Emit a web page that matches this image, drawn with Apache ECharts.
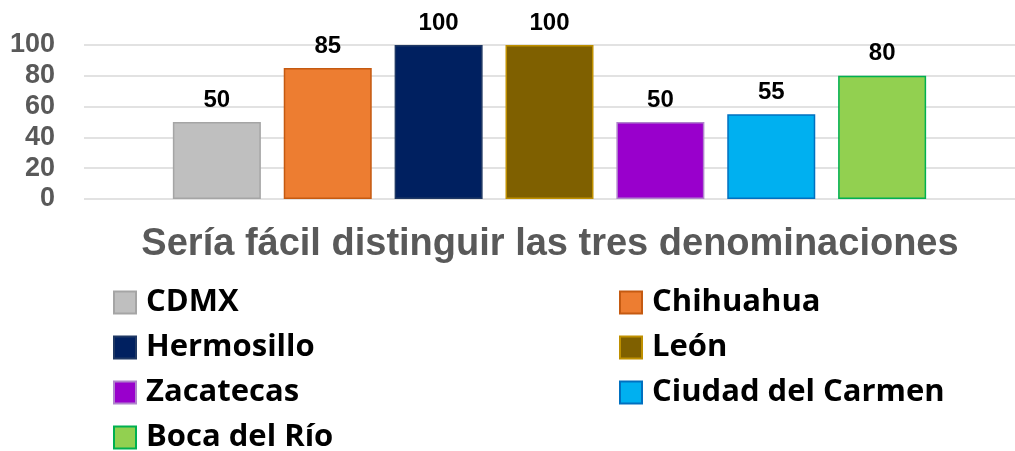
<!DOCTYPE html>
<html>
<head>
<meta charset="utf-8">
<script src="https://cdn.jsdelivr.net/npm/echarts@6/dist/echarts.min.js"></script>
<style>html,body{margin:0;padding:0;background:#fff}#c{width:1015px;height:451px}</style>
</head>
<body>
<div id="c"></div>
<script>
const categories = [''];
const seriesNames = ['CDMX', 'Chihuahua', 'Hermosillo', 'León', 'Zacatecas', 'Ciudad del Carmen', 'Boca del Río'];
const seriesValues = [50, 85, 100, 100, 50, 55, 80];
const yTicks = [0, 20, 40, 60, 80, 100];
const chartTitle = 'Sería fácil distinguir las tres denominaciones';

const fills = ['#bfbfbf', '#ed7d31', '#002060', '#7f6000', '#9900cc', '#00b0f0', '#92d050'];
const borders = ['#a5a5a5', '#c55a11', '#1f3864', '#bf9000', '#b084cc', '#0070c0', '#00b050'];

const chart = echarts.init(document.getElementById('c'), null, {renderer: 'canvas'});
const legendText = {fontFamily: 'Open Sans', fontWeight: 'bold', fontSize: 31, color: '#000', lineHeight: 28, padding: [0, 0, 0, 5]};
const legends = seriesNames.map((name, i) => ({
  data: [name], orient: 'vertical', padding: 0,
  left: i % 2 === 0 ? 113 : 619, top: 287 + Math.floor(i / 2) * 45,
  itemWidth: 22, itemHeight: 22, icon: 'rect', textStyle: legendText
}));
chart.setOption({
  animation: false,
  title: {
    text: chartTitle, left: 550, textAlign: 'center', top: 226, padding: 0,
    textStyle: {fontFamily: 'Liberation Sans', fontWeight: 'bold', fontSize: 38, color: '#595959'}
  },
  grid: {left: 84, right: 0, top: 45, bottom: 252, containLabel: false},
  legend: legends,
  xAxis: {type: 'category', data: categories, axisLine: {show: false}, axisTick: {show: false}, axisLabel: {show: false}},
  yAxis: {
    type: 'value', min: yTicks[0], max: yTicks[yTicks.length - 1], interval: 20,
    axisLine: {show: false}, axisTick: {show: false},
    axisLabel: {margin: 29, fontFamily: 'Liberation Sans', fontWeight: 'bold', fontSize: 27, color: '#595959'},
    splitLine: {lineStyle: {color: '#d9d9d9', width: 1.5}}
  },
  series: seriesNames.map((name, i) => ({
    name, type: 'bar', data: [seriesValues[i]], barWidth: 88, barGap: '26%',
    itemStyle: {color: fills[i], borderColor: borders[i], borderWidth: 1.5},
    label: {show: true, position: 'top', distance: 10, fontFamily: 'Liberation Sans', fontWeight: 'bold', fontSize: 24, color: '#000'}
  }))
});
</script>
</body>
</html>
